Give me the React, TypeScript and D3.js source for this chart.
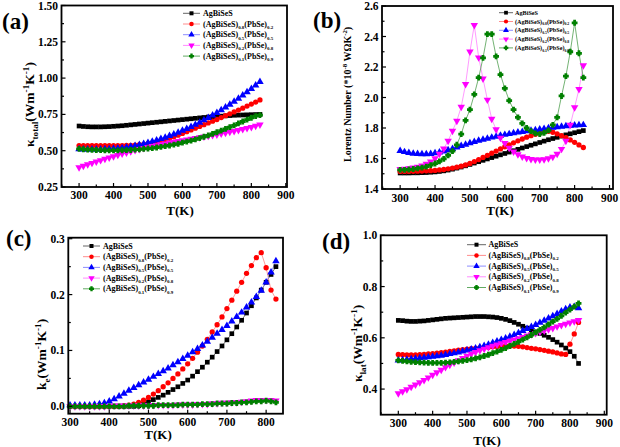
import React from "react";
import * as d3 from "d3";

const FONT = "'Liberation Serif', 'Times New Roman', Times, serif";

// Temperature grid (K)
const temps = [
  300, 312.5, 325, 337.5, 350, 362.5, 375, 387.5,
  400, 412.5, 425, 437.5, 450, 462.5, 475, 487.5,
  500, 512.5, 525, 537.5, 550, 562.5, 575, 587.5,
  600, 612.5, 625, 637.5, 650, 662.5, 675, 687.5,
  700, 712.5, 725, 737.5, 750, 762.5, 775, 787.5,
  800, 812.5, 825,
];

// (a) kappa_total
const aBlack = [
  0.670, 0.667, 0.665, 0.664, 0.664, 0.664, 0.665, 0.666,
  0.668, 0.670, 0.672, 0.675, 0.678, 0.681, 0.684, 0.687,
  0.690, 0.693, 0.696, 0.699, 0.702, 0.705, 0.708, 0.711,
  0.714, 0.717, 0.720, 0.723, 0.726, 0.729, 0.732, 0.734,
  0.736, 0.738, 0.740, 0.742, 0.744, 0.745, 0.746, 0.747,
  0.748, 0.749, 0.750,
];
const aRed = [
  0.535, 0.534, 0.534, 0.534, 0.534, 0.534, 0.534, 0.534,
  0.534, 0.534, 0.535, 0.536, 0.537, 0.539, 0.541, 0.544,
  0.548, 0.553, 0.559, 0.566, 0.575, 0.585, 0.596, 0.607,
  0.619, 0.631, 0.643, 0.655, 0.667, 0.679, 0.691, 0.703,
  0.715, 0.728, 0.741, 0.754, 0.767, 0.780, 0.793, 0.807,
  0.821, 0.835, 0.850,
];
const aBlue = [
  0.511, 0.510, 0.510, 0.510, 0.510, 0.510, 0.511, 0.512,
  0.514, 0.516, 0.519, 0.523, 0.528, 0.534, 0.540, 0.547,
  0.555, 0.563, 0.572, 0.581, 0.591, 0.602, 0.613, 0.625,
  0.638, 0.651, 0.665, 0.679, 0.694, 0.710, 0.726, 0.743,
  0.761, 0.779, 0.798, 0.818, 0.838, 0.859, 0.881, 0.903,
  0.926, 0.950, 0.975,
];
const aPink = [
  0.385, 0.395, 0.405, 0.415, 0.424, 0.434, 0.443, 0.452,
  0.461, 0.470, 0.479, 0.487, 0.495, 0.503, 0.510, 0.517,
  0.524, 0.531, 0.537, 0.543, 0.549, 0.555, 0.561, 0.566,
  0.571, 0.576, 0.581, 0.586, 0.591, 0.596, 0.601, 0.606,
  0.611, 0.617, 0.623, 0.629, 0.635, 0.641, 0.648, 0.655,
  0.662, 0.670, 0.680,
];
const aGreen = [
  0.512, 0.510, 0.508, 0.506, 0.505, 0.504, 0.503, 0.502,
  0.502, 0.502, 0.503, 0.504, 0.505, 0.507, 0.509, 0.512,
  0.515, 0.518, 0.522, 0.526, 0.531, 0.536, 0.542, 0.548,
  0.555, 0.562, 0.570, 0.578, 0.587, 0.596, 0.606, 0.616,
  0.627, 0.638, 0.650, 0.662, 0.675, 0.688, 0.701, 0.714,
  0.727, 0.738, 0.745,
];

// (b) Lorentz number
const bBlack = [
  1.505, 1.505, 1.505, 1.506, 1.506, 1.507, 1.508, 1.510,
  1.512, 1.515, 1.519, 1.524, 1.530, 1.537, 1.544, 1.552,
  1.561, 1.570, 1.579, 1.588, 1.597, 1.606, 1.615, 1.624,
  1.633, 1.642, 1.651, 1.660, 1.669, 1.678, 1.687, 1.696,
  1.705, 1.714, 1.723, 1.731, 1.739, 1.747, 1.755, 1.762,
  1.769, 1.776, 1.783,
];
const bRed = [
  1.515, 1.515, 1.515, 1.516, 1.517, 1.518, 1.519, 1.520,
  1.522, 1.525, 1.528, 1.532, 1.537, 1.543, 1.550, 1.558,
  1.568, 1.580, 1.593, 1.607, 1.621, 1.635, 1.649, 1.663,
  1.677, 1.690, 1.703, 1.716, 1.728, 1.740, 1.750, 1.759,
  1.768, 1.776, 1.778, 1.772, 1.762, 1.750, 1.737, 1.722,
  1.706, 1.689, 1.672,
];
const bBlue = [
  1.651, 1.643, 1.637, 1.633, 1.630, 1.629, 1.629, 1.631,
  1.635, 1.640, 1.647, 1.655, 1.664, 1.673, 1.683, 1.692,
  1.701, 1.709, 1.717, 1.724, 1.731, 1.738, 1.744, 1.750,
  1.756, 1.761, 1.766, 1.771, 1.775, 1.779, 1.783, 1.787,
  1.791, 1.795, 1.799, 1.803, 1.806, 1.809, 1.812, 1.815,
  1.817, 1.819, 1.820,
];
const bPink = [
  1.530, 1.532, 1.535, 1.540, 1.545, 1.553, 1.565, 1.580,
  1.600, 1.630, 1.665, 1.715, 1.781, 1.847, 1.938, 2.087,
  2.300, 2.475, 2.262, 2.124, 1.985, 1.860, 1.790, 1.735,
  1.700, 1.670, 1.645, 1.627, 1.612, 1.602, 1.596, 1.593,
  1.592, 1.594, 1.600, 1.610, 1.630, 1.662, 1.715, 1.820,
  1.935, 2.055, 2.210,
];
const bGreen = [
  1.525, 1.526, 1.528, 1.531, 1.535, 1.540, 1.547, 1.556,
  1.567, 1.581, 1.598, 1.620, 1.648, 1.690, 1.760, 1.850,
  1.920, 2.020, 2.130, 2.260, 2.415, 2.415, 2.270, 2.150,
  2.060, 1.980, 1.920, 1.870, 1.830, 1.800, 1.780, 1.765,
  1.760, 1.768, 1.785, 1.820, 1.870, 2.010, 2.140, 2.300,
  2.490, 2.290, 2.130,
];

// (c) electronic thermal conductivity
const cBlack = [
  0.000, 0.000, 0.000, 0.000, 0.000, 0.000, 0.000, 0.000,
  0.000, 0.000, 0.000, 0.000, 0.000, 0.000, 0.001, 0.004,
  0.008, 0.012, 0.016, 0.020, 0.025, 0.030, 0.035, 0.041,
  0.047, 0.054, 0.062, 0.070, 0.079, 0.088, 0.098, 0.108,
  0.119, 0.130, 0.142, 0.154, 0.167, 0.180, 0.194, 0.208,
  0.222, 0.236, 0.250,
];
const cRed = [
  0.000, 0.000, 0.000, 0.000, 0.000, 0.000, 0.000, 0.000,
  0.000, 0.000, 0.000, 0.001, 0.002, 0.004, 0.007, 0.011,
  0.016, 0.022, 0.028, 0.035, 0.042, 0.050, 0.058, 0.067,
  0.076, 0.086, 0.097, 0.108, 0.120, 0.133, 0.146, 0.160,
  0.175, 0.190, 0.206, 0.222, 0.238, 0.252, 0.266, 0.275,
  0.248, 0.208, 0.192,
];
const cBlue = [
  0.002, 0.002, 0.002, 0.002, 0.002, 0.003, 0.004, 0.006,
  0.009, 0.013, 0.018, 0.023, 0.028, 0.033, 0.038, 0.043,
  0.048, 0.053, 0.058, 0.063, 0.068, 0.074, 0.079, 0.085,
  0.091, 0.097, 0.103, 0.109, 0.116, 0.123, 0.130, 0.137,
  0.144, 0.152, 0.160, 0.168, 0.177, 0.186, 0.196, 0.207,
  0.222, 0.240, 0.260,
];
const cPink = [
  0.000, 0.000, 0.000, 0.000, 0.000, 0.000, 0.000, 0.000,
  0.000, 0.001, 0.001, 0.001, 0.001, 0.001, 0.001, 0.001,
  0.001, 0.002, 0.002, 0.002, 0.002, 0.002, 0.003, 0.003,
  0.003, 0.003, 0.004, 0.004, 0.004, 0.005, 0.005, 0.006,
  0.006, 0.007, 0.007, 0.008, 0.009, 0.010, 0.011, 0.011,
  0.011, 0.011, 0.010,
];
const cGreen = [
  0.000, 0.000, 0.000, 0.000, 0.000, 0.000, 0.000, 0.000,
  0.000, 0.000, 0.000, 0.000, 0.001, 0.001, 0.001, 0.001,
  0.001, 0.001, 0.002, 0.002, 0.002, 0.002, 0.002, 0.003,
  0.003, 0.003, 0.003, 0.004, 0.004, 0.004, 0.005, 0.005,
  0.005, 0.006, 0.006, 0.007, 0.007, 0.008, 0.009, 0.009,
  0.010, 0.009, 0.007,
];

// (d) lattice thermal conductivity
const dBlack = [
  0.668, 0.667, 0.665, 0.664, 0.664, 0.665, 0.666, 0.668,
  0.670, 0.672, 0.674, 0.676, 0.677, 0.678, 0.679, 0.680,
  0.681, 0.682, 0.683, 0.683, 0.683, 0.682, 0.681, 0.679,
  0.676, 0.672, 0.667, 0.660, 0.653, 0.645, 0.638, 0.630,
  0.623, 0.617, 0.610, 0.602, 0.593, 0.583, 0.572, 0.560,
  0.546, 0.528, 0.500,
];
const dRed = [
  0.535, 0.534, 0.533, 0.533, 0.533, 0.534, 0.535, 0.537,
  0.538, 0.540, 0.542, 0.544, 0.547, 0.549, 0.552, 0.554,
  0.556, 0.558, 0.559, 0.561, 0.562, 0.563, 0.565, 0.566,
  0.567, 0.568, 0.568, 0.568, 0.567, 0.565, 0.562, 0.559,
  0.557, 0.554, 0.551, 0.548, 0.545, 0.541, 0.537, 0.535,
  0.575, 0.615, 0.660,
];
const dBlue = [
  0.512, 0.513, 0.515, 0.517, 0.519, 0.521, 0.523, 0.525,
  0.527, 0.529, 0.531, 0.534, 0.537, 0.540, 0.543, 0.547,
  0.551, 0.555, 0.559, 0.564, 0.569, 0.574, 0.580, 0.586,
  0.592, 0.598, 0.605, 0.612, 0.619, 0.627, 0.635, 0.643,
  0.651, 0.659, 0.667, 0.676, 0.685, 0.694, 0.703, 0.712,
  0.719, 0.721, 0.716,
];
const dPink = [
  0.383, 0.391, 0.399, 0.408, 0.417, 0.426, 0.435, 0.445,
  0.455, 0.465, 0.475, 0.485, 0.494, 0.503, 0.512, 0.521,
  0.529, 0.537, 0.544, 0.551, 0.557, 0.563, 0.568, 0.573,
  0.578, 0.583, 0.588, 0.593, 0.598, 0.603, 0.608, 0.613,
  0.618, 0.623, 0.628, 0.633, 0.638, 0.644, 0.649, 0.654,
  0.659, 0.664, 0.669,
];
const dGreen = [
  0.512, 0.510, 0.508, 0.506, 0.505, 0.504, 0.503, 0.502,
  0.502, 0.502, 0.502, 0.503, 0.504, 0.506, 0.508, 0.510,
  0.513, 0.516, 0.520, 0.524, 0.529, 0.534, 0.540, 0.546,
  0.553, 0.560, 0.568, 0.576, 0.584, 0.593, 0.602, 0.611,
  0.621, 0.631, 0.641, 0.652, 0.663, 0.674, 0.686, 0.698,
  0.710, 0.722, 0.734,
];

// Ticks
const xTicksMain = [300, 400, 500, 600, 700, 800, 900];
const xMinorMain = [250, 350, 450, 550, 650, 750, 850];
const xTicksC = [300, 400, 500, 600, 700, 800];
const xMinorC = [350, 450, 550, 650, 750];
const yTicksA = [0.25, 0.5, 0.75, 1.0, 1.25, 1.5];
const yLabelsA = ["0.25", "0.50", "0.75", "1.00", "1.25", "1.50"];
const yMinorA = [0.375, 0.625, 0.875, 1.125, 1.375];
const yTicksB = [1.4, 1.6, 1.8, 2.0, 2.2, 2.4, 2.6];
const yLabelsB = ["1.4", "1.6", "1.8", "2.0", "2.2", "2.4", "2.6"];
const yMinorB = [1.5, 1.7, 1.9, 2.1, 2.3, 2.5];
const yTicksC = [0.0, 0.1, 0.2, 0.3];
const yLabelsC = ["0.0", "0.1", "0.2", "0.3"];
const yMinorC = [0.05, 0.15, 0.25];
const yTicksD = [0.4, 0.6, 0.8, 1.0];
const yLabelsD = ["0.4", "0.6", "0.8", "1.0"];
const yMinorD = [0.5, 0.7, 0.9];

const seriesColors = ["#000000", "#ff0000", "#0000ff", "#ff00ff", "#008000"];
const lineColors = ["#555555", "#ff8080", "#8080ff", "#ff80ff", "#50a050"];
const legendNames: [string, string][][] = [
  [["AgBiSeS", ""]],
  [["(AgBiSeS)", "0.8"], ["(PbSe)", "0.2"]],
  [["(AgBiSeS)", "0.5"], ["(PbSe)", "0.5"]],
  [["(AgBiSeS)", "0.2"], ["(PbSe)", "0.8"]],
  [["(AgBiSeS)", "0.1"], ["(PbSe)", "0.9"]],
];

// chunky plus-shaped marker (Origin-like star at small size)
const symbolBlob = {
  draw(context: any, size: number) {
    const r = Math.sqrt(size) * 0.62;
    const a = r * 0.48;
    context.moveTo(-a, -r);
    context.lineTo(a, -r);
    context.lineTo(a, -a);
    context.lineTo(r, -a);
    context.lineTo(r, a);
    context.lineTo(a, a);
    context.lineTo(a, r);
    context.lineTo(-a, r);
    context.lineTo(-a, a);
    context.lineTo(-r, a);
    context.lineTo(-r, -a);
    context.lineTo(-a, -a);
    context.closePath();
  },
};

const symbolTypes: any[] = [d3.symbolSquare, d3.symbolCircle, d3.symbolTriangle, d3.symbolTriangle, symbolBlob];
const symbolScale = [1, 1, 1.1, 1.1, 1];

type Part = { t: string; k?: "sub" | "sup" };

function RichText(props: { parts: Part[]; size: number; small: number; x: number; y: number; anchor?: string; transform?: string }) {
  const { parts, size, small, x, y, anchor, transform } = props;
  let cur = 0;
  return (
    <text x={x} y={y} transform={transform} textAnchor={anchor || "start"} fontFamily={FONT} fontWeight="bold" fontSize={size} fill="#000">
      {parts.map((p, i) => {
        const target = p.k === "sub" ? size * 0.3 : p.k === "sup" ? -size * 0.4 : 0;
        const dy = target - cur;
        cur = target;
        return (
          <tspan key={i} dy={dy} fontSize={p.k ? small : size}>
            {p.t}
          </tspan>
        );
      })}
    </text>
  );
}

function Marker({ idx, x, y, size }: { idx: number; x: number; y: number; size: number }) {
  const d = d3.symbol().type(symbolTypes[idx]).size(size * symbolScale[idx])() as string;
  return (
    <path
      d={d}
      transform={`translate(${x},${y})${idx === 3 ? " rotate(180)" : ""}`}
      fill={seriesColors[idx]}
    />
  );
}

type PanelCfg = {
  frame: { x0: number; x1: number; y0: number; y1: number };
  xDomain: [number, number];
  yDomain: [number, number];
  xTicks: number[];
  xMinor: number[];
  yTicks: number[];
  yLabels: string[];
  yMinor: number[];
  series: number[][];
  markerSize: number;
  legend: { lx0: number; lx1: number; tx: number; y0: number; dy: number; font: number; msize: number };
  tag: string;
  tagPos: [number, number];
  ylabel: Part[];
  ylabelPos: [number, number];
  ylabelSize: number;
  xlabelPos: [number, number];
  xTickDy: number;
};

function Panel({ cfg }: { cfg: PanelCfg }) {
  const f = cfg.frame;
  const x = d3.scaleLinear().domain(cfg.xDomain).range([f.x0, f.x1]);
  const y = d3.scaleLinear().domain(cfg.yDomain).range([f.y1, f.y0]);
  const line = d3
    .line<number>()
    .x((_, i) => x(temps[i]))
    .y((d) => y(d));
  const lg = cfg.legend;
  return (
    <g>
      {cfg.series.map((s, si) => (
        <path key={"l" + si} d={line(s) as string} fill="none" stroke={lineColors[si]} strokeWidth={0.8} />
      ))}
      {cfg.series.map((s, si) => (
        <g key={"m" + si}>
          {s.map((v, i) => (
            <Marker key={i} idx={si} x={x(temps[i])} y={y(v)} size={cfg.markerSize} />
          ))}
        </g>
      ))}
      <rect x={f.x0} y={f.y0} width={f.x1 - f.x0} height={f.y1 - f.y0} fill="none" stroke="#000" strokeWidth={1.8} />
      {cfg.xTicks.map((t) => (
        <g key={"xt" + t}>
          <line x1={x(t)} x2={x(t)} y1={f.y1} y2={f.y1 - 4} stroke="#000" strokeWidth={1.2} />
          <text x={x(t)} y={f.y1 + cfg.xTickDy} textAnchor="middle" fontFamily={FONT} fontWeight="bold" fontSize={11.5}>
            {t}
          </text>
        </g>
      ))}
      {cfg.xMinor.map((t) => (
        <line key={"xm" + t} x1={x(t)} x2={x(t)} y1={f.y1} y2={f.y1 - 2.5} stroke="#000" strokeWidth={1.2} />
      ))}
      {cfg.yTicks.map((t, i) => (
        <g key={"yt" + t}>
          <line x1={f.x0} x2={f.x0 + 4} y1={y(t)} y2={y(t)} stroke="#000" strokeWidth={1.2} />
          <text x={f.x0 - 3.5} y={y(t) + 4} textAnchor="end" fontFamily={FONT} fontWeight="bold" fontSize={11.5}>
            {cfg.yLabels[i]}
          </text>
        </g>
      ))}
      {cfg.yMinor.map((t) => (
        <line key={"ym" + t} x1={f.x0} x2={f.x0 + 2.5} y1={y(t)} y2={y(t)} stroke="#000" strokeWidth={1.2} />
      ))}
      {legendNames.map((parts, i) => {
        const ry = lg.y0 + i * lg.dy;
        const rich: Part[] = [];
        parts.forEach(([base, sub]) => {
          rich.push({ t: base });
          if (sub) rich.push({ t: sub, k: "sub" });
        });
        return (
          <g key={"lg" + i}>
            <line x1={lg.lx0} x2={lg.lx1} y1={ry} y2={ry} stroke={lineColors[i]} strokeWidth={0.9} />
            <Marker idx={i} x={(lg.lx0 + lg.lx1) / 2} y={ry} size={lg.msize} />
            <RichText parts={rich} size={lg.font} small={lg.font * 0.62} x={lg.tx} y={ry + lg.font * 0.33} />
          </g>
        );
      })}
      <text x={cfg.tagPos[0]} y={cfg.tagPos[1]} fontFamily={FONT} fontWeight="bold" fontSize={23}>
        {cfg.tag}
      </text>
      <text x={cfg.xlabelPos[0]} y={cfg.xlabelPos[1]} textAnchor="middle" fontFamily={FONT} fontWeight="bold" fontSize={13}>
        T(K)
      </text>
      <RichText
        parts={cfg.ylabel}
        size={cfg.ylabelSize}
        small={cfg.ylabelSize * 0.68}
        x={0}
        y={0}
        anchor="start"
        transform={`translate(${cfg.ylabelPos[0]},${cfg.ylabelPos[1]}) rotate(-90)`}
      />
    </g>
  );
}

const panels: PanelCfg[] = [
  {
    frame: { x0: 61.5, x1: 287, y0: 5.5, y1: 187 },
    xDomain: [249, 903.5],
    yDomain: [0.25, 1.5],
    xTicks: xTicksMain,
    xMinor: xMinorMain,
    yTicks: yTicksA,
    yLabels: yLabelsA,
    yMinor: yMinorA,
    series: [aBlack, aRed, aBlue, aPink, aGreen],
    markerSize: 22,
    legend: { lx0: 183, lx1: 200, tx: 203, y0: 13.3, dy: 10.7, font: 8, msize: 16 },
    tag: "(a)",
    tagPos: [2, 29],
    ylabel: [{ t: "κ" }, { t: "total", k: "sub" }, { t: "(Wm" }, { t: "-1", k: "sup" }, { t: "K" }, { t: "-1", k: "sup" }, { t: ")" }],
    ylabelPos: [34, 147],
    ylabelSize: 13.5,
    xlabelPos: [180, 215],
    xTickDy: 12,
  },
  {
    frame: { x0: 382, x1: 613, y0: 6, y1: 189 },
    xDomain: [248, 910],
    yDomain: [1.4, 2.6],
    xTicks: xTicksMain,
    xMinor: xMinorMain,
    yTicks: yTicksB,
    yLabels: yLabelsB,
    yMinor: yMinorB,
    series: [bBlack, bRed, bBlue, bPink, bGreen],
    markerSize: 22,
    legend: { lx0: 499, lx1: 513, tx: 515, y0: 12.7, dy: 8.8, font: 6.2, msize: 14 },
    tag: "(b)",
    tagPos: [313, 28],
    ylabel: [{ t: "Lorentz Number (*10" }, { t: "-8", k: "sup" }, { t: " WΩK" }, { t: "-2", k: "sup" }, { t: ")" }],
    ylabelPos: [351, 162],
    ylabelSize: 10,
    xlabelPos: [500, 215],
    xTickDy: 13,
  },
  {
    frame: { x0: 68.3, x1: 283, y0: 237.7, y1: 413.7 },
    xDomain: [295.6, 843],
    yDomain: [-0.0132, 0.3018],
    xTicks: xTicksC,
    xMinor: xMinorC,
    yTicks: yTicksC,
    yLabels: yLabelsC,
    yMinor: yMinorC,
    series: [cBlack, cRed, cBlue, cPink, cGreen],
    markerSize: 22,
    legend: { lx0: 83, lx1: 100, tx: 103, y0: 246, dy: 10.7, font: 8, msize: 16 },
    tag: "(c)",
    tagPos: [6, 246],
    ylabel: [{ t: "k" }, { t: "e", k: "sub" }, { t: "(Wm" }, { t: "-1", k: "sup" }, { t: "K" }, { t: "-1", k: "sup" }, { t: ")" }],
    ylabelPos: [46, 390],
    ylabelSize: 13.5,
    xlabelPos: [158, 439],
    xTickDy: 12,
  },
  {
    frame: { x0: 380.7, x1: 606.7, y0: 235.3, y1: 414.7 },
    xDomain: [248.7, 907],
    yDomain: [0.3, 1.0],
    xTicks: xTicksMain,
    xMinor: xMinorMain,
    yTicks: yTicksD,
    yLabels: yLabelsD,
    yMinor: yMinorD,
    series: [dBlack, dRed, dBlue, dPink, dGreen],
    markerSize: 22,
    legend: { lx0: 467, lx1: 486, tx: 488.5, y0: 244.7, dy: 10.7, font: 8, msize: 16 },
    tag: "(d)",
    tagPos: [322, 249],
    ylabel: [{ t: "κ" }, { t: "lat", k: "sub" }, { t: "(Wm" }, { t: "-1", k: "sup" }, { t: "K" }, { t: "-1", k: "sup" }, { t: ")" }],
    ylabelPos: [362, 382],
    ylabelSize: 13.5,
    xlabelPos: [487, 445],
    xTickDy: 12.5,
  },
];

export default function App() {
  return (
    <svg
      width={620}
      height={447}
      viewBox="0 0 620 447"
      style={{ position: "fixed", left: 0, top: 0, background: "#fff", display: "block" }}
    >
      <rect x={0} y={0} width={620} height={447} fill="#fff" />
      {panels.map((p, i) => (
        <Panel key={i} cfg={p} />
      ))}
    </svg>
  );
}
